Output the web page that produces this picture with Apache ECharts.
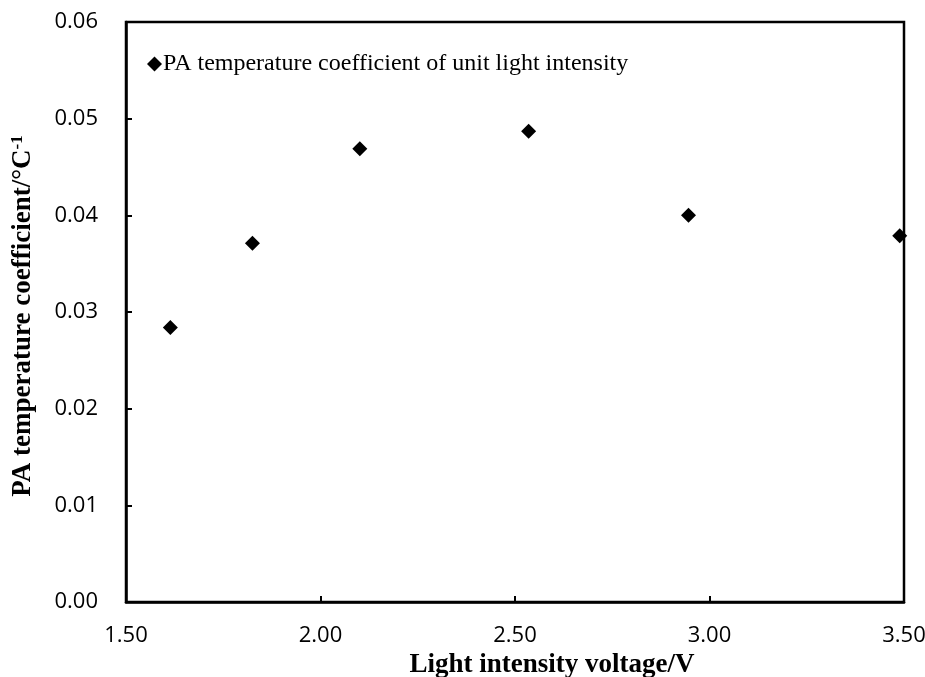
<!DOCTYPE html>
<html>
<head>
<meta charset="utf-8">
<script src="https://cdn.jsdelivr.net/npm/echarts@6/dist/echarts.min.js"></script>
<style>
html,body{margin:0;padding:0;background:#fff;}
#chart{width:925px;height:677px;}
</style>
</head>
<body>
<div id="chart"></div>
<script>
var seriesName = 'PA temperature coefficient of unit light intensity';
var voltage = [1.614, 1.825, 2.101, 2.535, 2.946, 3.489];
var tempCoef = [0.0284, 0.0371, 0.0469, 0.0487, 0.0400, 0.0379];
var xTitle = 'Light intensity voltage/V';
var yTitle = 'PA temperature coefficient/°C';
var yTitleSup = '-1';

var points = voltage.map(function (v, i) { return [v, tempCoef[i]]; });
var serif = '"Liberation Serif", "Times New Roman", serif';

var chart = echarts.init(document.getElementById('chart'), null, {renderer: 'canvas'});
chart.setOption({
  animation: false,
  backgroundColor: '#fff',
  grid: {
    left: 126, right: 21, top: 22, bottom: 75,
    outerBoundsMode: 'none',
    containLabel: false,
    show: true, borderColor: '#000', borderWidth: 2.5, backgroundColor: 'transparent'
  },
  legend: {
    left: 142, top: 47,
    itemWidth: 15, itemHeight: 15, itemGap: 10,
    icon: 'diamond',
    itemStyle: {color: '#000', opacity: 1},
    textStyle: {fontFamily: serif, fontSize: 24, color: '#000', padding: [0, 0, 0, -4]},
    data: [seriesName]
  },
  xAxis: {
    type: 'value', min: 1.5, max: 3.5, interval: 0.5,
    name: xTitle, nameLocation: 'middle', nameGap: 47,
    nameTextStyle: {fontFamily: serif, fontWeight: 'bold', fontSize: 27, color: '#000', padding: [0, 0, 0, 74]},
    axisLine: {show: true, lineStyle: {color: '#000', width: 2.5}},
    axisTick: {show: true, inside: true, length: 6, lineStyle: {color: '#000', width: 2}},
    axisLabel: {fontFamily: '"Open Sans", sans-serif', fontSize: 22, color: '#000', margin: 23,
      formatter: function (v) { return v.toFixed(2); }},
    splitLine: {show: false}
  },
  yAxis: {
    type: 'value', min: 0, max: 0.06, interval: 0.01,
    name: '{t|' + yTitle + '}{s|' + yTitleSup + '}', nameLocation: 'middle', nameGap: 88,
    nameTextStyle: {
      padding: [0, 8, 0, 0],
      rich: {
        t: {fontFamily: serif, fontWeight: 'bold', fontSize: 27, color: '#000'},
        s: {fontFamily: serif, fontWeight: 'bold', fontSize: 17, color: '#000', verticalAlign: 'top', padding: [0, 0, 12, 0]}
      }
    },
    axisLine: {show: true, lineStyle: {color: '#000', width: 2.5}},
    axisTick: {show: true, inside: true, length: 6, lineStyle: {color: '#000', width: 2}},
    axisLabel: {fontFamily: '"Open Sans", sans-serif', fontSize: 22, color: '#000', margin: 28,
      formatter: function (v) { return v.toFixed(2); }},
    splitLine: {show: false}
  },
  series: [{
    name: seriesName,
    type: 'scatter',
    symbol: 'diamond',
    symbolSize: 15,
    itemStyle: {color: '#000', opacity: 1},
    data: points
  }]
});
</script>
</body>
</html>
